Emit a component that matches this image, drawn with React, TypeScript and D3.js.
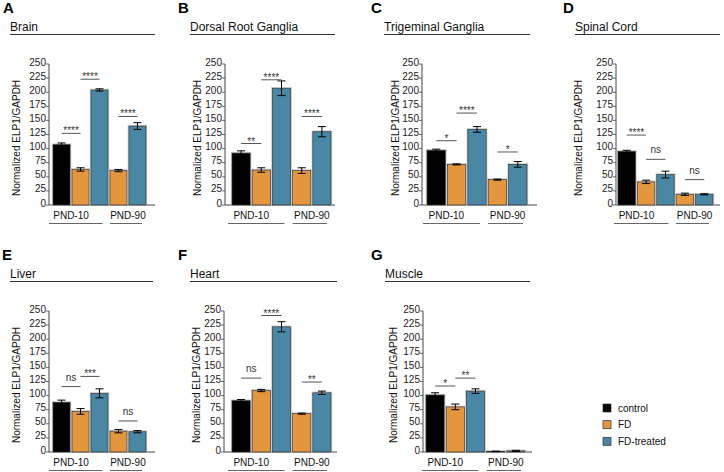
import React from 'react';
import * as d3 from 'd3';

// groups and bar order
const groupNames = ['control', 'FD', 'FD-treated'];
const groupColors = ['#000000', '#E3963E', '#4A87A5'];
const barGroup = [0, 1, 2, 1, 2];
const ageLabels = ['PND-10', 'PND-90'];
const yTicks = [0, 25, 50, 75, 100, 125, 150, 175, 200, 225, 250];

const panelLetters = ['A', 'B', 'C', 'D', 'E', 'F', 'G'];
const tissueNames = ['Brain', 'Dorsal Root Ganglia', 'Trigeminal Ganglia', 'Spinal Cord', 'Liver', 'Heart', 'Muscle'];

// means and SEM, bars: PND-10 control, FD, FD-treated, PND-90 FD, FD-treated
const brainMeans = [107, 63, 204, 61, 140];
const brainErr = [3, 3, 2, 2, 6];
const drgMeans = [92, 62, 207, 61, 130];
const drgErr = [4, 4, 13, 5, 9];
const tgMeans = [97, 72, 134, 45, 72];
const tgErr = [2, 1, 5, 1, 5];
const scMeans = [95, 41, 54, 19, 19];
const scErr = [2, 3, 6, 2, 1];
const liverMeans = [88, 72, 104, 37, 36];
const liverErr = [4, 5, 8, 3, 2];
const heartMeans = [91, 109, 222, 68, 105];
const heartErr = [2, 2, 9, 1, 3];
const muscleMeans = [101, 80, 108, 1, 2];
const muscleErr = [4, 5, 4, 0.5, 1];

// significance: [from bar, to bar, label, line height]
type Sig = [number, number, string, number];
const brainSig: Sig[] = [[0, 1, '****', 127], [1, 2, '****', 223], [3, 4, '****', 157]];
const drgSig: Sig[] = [[0, 1, '**', 109], [1, 2, '****', 222], [3, 4, '****', 157]];
const tgSig: Sig[] = [[0, 1, '*', 114], [1, 2, '****', 163], [3, 4, '*', 94]];
const scSig: Sig[] = [[0, 1, '****', 124], [1, 2, 'ns', 81], [3, 4, 'ns', 45]];
const liverSig: Sig[] = [[0, 1, 'ns', 116], [1, 2, '***', 134], [3, 4, 'ns', 55]];
const heartSig: Sig[] = [[0, 1, 'ns', 131], [1, 2, '****', 242], [3, 4, '**', 124]];
const muscleSig: Sig[] = [[0, 1, '*', 117], [1, 2, '**', 131]];

const FONT = 'Liberation Sans, Arial, Helvetica, sans-serif';

interface PanelLayout {
  row: number;
  letterX: number;
  titleX: number;
  titleEnd: number;
  axisX: number;
  barStart: number;
  barEnd: number;
  baseEnd: number;
  ylabelX: number;
}

const layouts: PanelLayout[] = [
  { row: 0, letterX: 3, titleX: 10, titleEnd: 155, axisX: 49, barStart: 53, barEnd: 146, baseEnd: 155, ylabelX: 16 },
  { row: 0, letterX: 178, titleX: 190, titleEnd: 335, axisX: 225, barStart: 232, barEnd: 331, baseEnd: 335, ylabelX: 197 },
  { row: 0, letterX: 371, titleX: 384, titleEnd: 530, axisX: 422, barStart: 427, barEnd: 527, baseEnd: 537, ylabelX: 395 },
  { row: 0, letterX: 563, titleX: 575, titleEnd: 720, axisX: 616, barStart: 618, barEnd: 713, baseEnd: 720, ylabelX: 578 },
  { row: 1, letterX: 2, titleX: 10, titleEnd: 153, axisX: 49, barStart: 53, barEnd: 146, baseEnd: 155, ylabelX: 16 },
  { row: 1, letterX: 178, titleX: 190, titleEnd: 337, axisX: 224, barStart: 232, barEnd: 331, baseEnd: 337, ylabelX: 196 },
  { row: 1, letterX: 371, titleX: 385, titleEnd: 530, axisX: 423, barStart: 426, barEnd: 525, baseEnd: 532, ylabelX: 393 },
];

const panelMeans = [brainMeans, drgMeans, tgMeans, scMeans, liverMeans, heartMeans, muscleMeans];
const panelErr = [brainErr, drgErr, tgErr, scErr, liverErr, heartErr, muscleErr];
const panelSig = [brainSig, drgSig, tgSig, scSig, liverSig, heartSig, muscleSig];

const ROW_OFF = 247;

function Panel({ idx }: { idx: number }) {
  const L = layouts[idx];
  const off = L.row * ROW_OFF;
  const means = panelMeans[idx];
  const errs = panelErr[idx];
  const sigs = panelSig[idx];

  const y = d3.scaleLinear().domain([0, 250]).range([205 + off, 64 + off]);
  const x = d3
    .scaleBand<number>()
    .domain(d3.range(means.length))
    .range([L.barStart, L.barEnd])
    .paddingInner(0.1)
    .paddingOuter(0);
  const bw = x.bandwidth();
  const cx = (i: number) => (x(i) ?? 0) + bw / 2;

  const pnd10X = ((x(0) ?? 0) + bw + (x(1) ?? 0)) / 2;
  const pnd90X = ((x(3) ?? 0) + (x(4) ?? 0) + bw) / 2;

  return (
    <g fontFamily={FONT}>
      <text x={L.letterX} y={13 + off} fontSize={15} fontWeight="bold">{panelLetters[idx]}</text>
      <text x={L.titleX} y={31 + off} fontSize={12} fill="#111">{tissueNames[idx]}</text>
      <line x1={L.titleX} x2={L.titleEnd} y1={34.5 + off} y2={34.5 + off} stroke="#333" strokeWidth={1} />

      <text
        transform={`translate(${L.ylabelX},${138 + off}) rotate(-90)`}
        textAnchor="middle"
        dominantBaseline="central"
        fontSize={10}
        fill="#111"
      >
        Normalized ELP1/GAPDH
      </text>

      {/* y axis */}
      <line x1={L.axisX} x2={L.axisX} y1={y(0)} y2={y(250)} stroke="#444" strokeWidth={1} />
      {yTicks.map(t => (
        <g key={t}>
          <line x1={L.axisX - 3} x2={L.axisX} y1={y(t)} y2={y(t)} stroke="#444" strokeWidth={0.8} />
          <text x={L.axisX - 3} y={y(t) + 1.5} fontSize={10} textAnchor="end" fill="#222">{t}</text>
        </g>
      ))}
      <line x1={L.axisX} x2={L.baseEnd} y1={y(0)} y2={y(0)} stroke="#444" strokeWidth={1} />

      {/* bars with a soft grey rim */}
      {means.map((m, i) => (
        <g key={i}>
          <rect
            x={(x(i) ?? 0) - 0.8}
            y={y(m) - 0.8}
            width={bw + 1.6}
            height={y(0) - y(m) + 0.8}
            fill="none"
            stroke="#c8c8c8"
            strokeWidth={0.8}
          />
          <rect
            x={x(i)}
            y={y(m)}
            width={bw}
            height={y(0) - y(m)}
            fill={groupColors[barGroup[i]]}
            stroke="#333"
            strokeWidth={0.7}
          />
        </g>
      ))}

      {/* error bars */}
      {means.map((m, i) => {
        const c = cx(i);
        const hi = y(m + errs[i]);
        const lo = y(Math.max(0, m - errs[i]));
        return (
          <g key={i} stroke="#000" strokeWidth={1}>
            <line x1={c} x2={c} y1={hi} y2={lo} />
            <line x1={c - 4} x2={c + 4} y1={hi} y2={hi} />
            <line x1={c - 4} x2={c + 4} y1={lo} y2={lo} />
          </g>
        );
      })}

      {/* significance */}
      {sigs.map(([a, b, lab, v], k) => {
        const yy = y(v);
        return (
          <g key={k}>
            <line x1={cx(a)} x2={cx(b)} y1={yy} y2={yy} stroke="#555" strokeWidth={1} />
            <text
              x={(cx(a) + cx(b)) / 2}
              y={lab === 'ns' ? yy - 6 : yy + 1}
              fontSize={10}
              textAnchor="middle"
              fill="#333"
            >
              {lab}
            </text>
          </g>
        );
      })}

      {/* age labels */}
      <text x={pnd10X} y={219 + off} fontSize={10} textAnchor="middle" fill="#111">{ageLabels[0]}</text>
      <text x={pnd90X} y={219 + off} fontSize={10} textAnchor="middle" fill="#111">{ageLabels[1]}</text>
      <line x1={(x(0) ?? 0) - 4} x2={cx(2) + 3} y1={223.5 + off} y2={223.5 + off} stroke="#666" strokeWidth={1} />
      <line x1={x(3) ?? 0} x2={(x(4) ?? 0) + bw - 4} y1={223.5 + off} y2={223.5 + off} stroke="#666" strokeWidth={1} />
    </g>
  );
}

export default function App() {
  const legendY = d3.scaleBand<number>().domain(d3.range(groupNames.length)).range([404, 454]);
  return (
    <svg
      width={724}
      height={472}
      style={{ position: 'absolute', left: 0, top: 0, background: '#fff' }}
    >
      <rect width={724} height={472} fill="#fff" />
      {layouts.map((_, i) => (
        <Panel key={i} idx={i} />
      ))}
      <g fontFamily={FONT}>
        {groupNames.map((g, i) => (
          <g key={g}>
            <rect x={603} y={legendY(i)} width={8} height={8} fill={groupColors[i]} stroke="#333" strokeWidth={0.7} />
            <text x={618} y={(legendY(i) ?? 0) + 7.5} fontSize={10} fill="#111">{g}</text>
          </g>
        ))}
      </g>
    </svg>
  );
}
